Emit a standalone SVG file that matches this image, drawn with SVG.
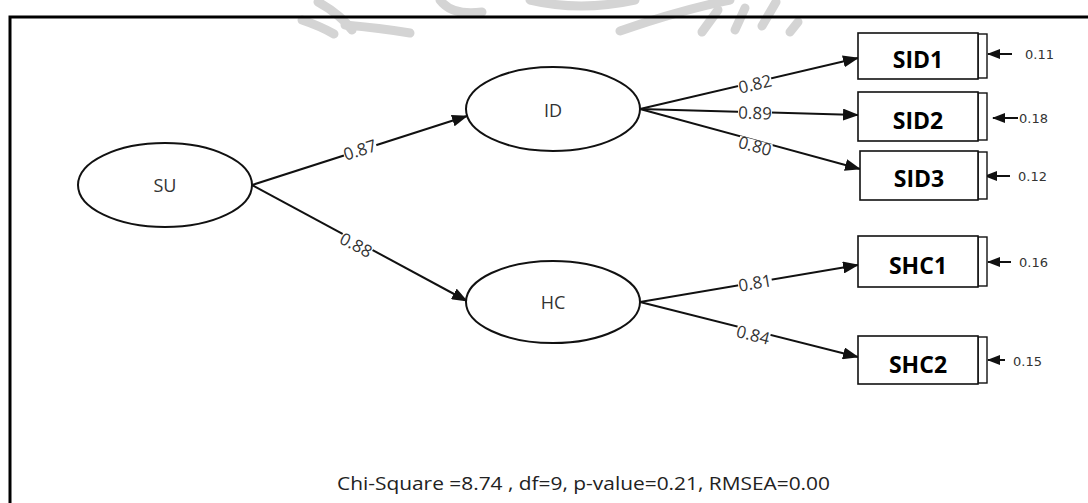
<svg xmlns="http://www.w3.org/2000/svg" width="1088" height="503" viewBox="0 0 1088 503">
  <style>
    .wm { fill: none; stroke: #d4d4d4; stroke-width: 9; stroke-linecap: round; }
    .lat { fill: #fff; stroke: #111; stroke-width: 2; }
    .latlbl { font-family: "Open Sans", "DejaVu Sans", sans-serif; font-size: 18px; fill: #333; text-anchor: middle; }
    .box { fill: #fff; stroke: #111; stroke-width: 1.6; }
    .bar { fill: #fff; stroke: #111; stroke-width: 1.4; }
    .boxlbl { font-family: "Open Sans", "Noto Sans", sans-serif; font-weight: bold; font-size: 23px; fill: #000; text-anchor: middle; }
    .path { fill: none; stroke: #111; stroke-width: 2; marker-end: url(#arrow); }
    .err { fill: none; stroke: #111; stroke-width: 2; marker-end: url(#arrowS); }
    .coef { font-family: "Open Sans", "DejaVu Sans", sans-serif; font-size: 17px; fill: #333; text-anchor: middle; }
    .halo { fill: #fff; }
    .errlbl { font-family: "DejaVu Sans", sans-serif; font-size: 13px; fill: #333; }
    .fit { font-family: "Open Sans", "DejaVu Sans", sans-serif; font-size: 19px; fill: #222; }
  </style>
  <defs>
    <marker id="arrow" markerUnits="userSpaceOnUse" markerWidth="16" markerHeight="12" refX="15" refY="6" orient="auto">
      <path d="M0,0 L16,6 L0,12 Z" fill="#111"/>
    </marker>
    <marker id="arrowS" markerUnits="userSpaceOnUse" markerWidth="13" markerHeight="10" refX="12" refY="5" orient="auto">
      <path d="M0,0 L13,5 L0,10 Z" fill="#111"/>
    </marker>
  </defs>

  <rect width="1088" height="503" fill="#fff"/>

  <!-- faint background seal -->
  <g id="seal">
    <path class="wm" d="M318,2 Q340,14 352,30"/>
    <path class="wm" d="M302,20 Q320,26 334,34"/>
    <path class="wm" d="M345,25 Q380,28 410,33"/>
    <path class="wm" d="M440,0 Q452,16 482,12"/>
    <path class="wm" d="M530,0 Q580,12 635,0"/>
    <path class="wm" d="M620,31 Q680,10 730,0"/>
    <path class="wm" d="M702,32 L718,10"/>
    <path class="wm" d="M735,30 L745,8"/>
    <path class="wm" d="M762,26 L776,2"/>
    <path class="wm" d="M790,32 L798,22"/>
  </g>

  <!-- outer frame -->
  <rect x="10" y="17" width="1090" height="500" fill="none" stroke="#000" stroke-width="3"/>

  <!-- connectors -->
  <g id="connectors">
    <line class="path" x1="252" y1="185" x2="467" y2="116"/>
    <line class="path" x1="252" y1="185" x2="467" y2="301"/>
    <line class="path" x1="640" y1="109" x2="858" y2="58"/>
    <line class="path" x1="640" y1="109" x2="858" y2="115"/>
    <line class="path" x1="640" y1="109" x2="860" y2="169"/>
    <line class="path" x1="640" y1="302" x2="858" y2="265"/>
    <line class="path" x1="640" y1="302" x2="858" y2="357"/>
    <line class="err" x1="1012" y1="54" x2="988" y2="54"/>
    <line class="err" x1="1018" y1="118" x2="993" y2="118"/>
    <line class="err" x1="1010" y1="176" x2="985" y2="176"/>
    <line class="err" x1="1011" y1="262" x2="988" y2="262"/>
    <line class="err" x1="1005" y1="360" x2="988" y2="360"/>

    <!-- path coefficients, each on a white patch that breaks the line -->
    <g transform="translate(360,150) rotate(-17.6)"><rect class="halo" x="-17" y="-6" width="34" height="12"/><text class="coef" y="6">0.87</text></g>
    <g transform="translate(356,245) rotate(28)"><rect class="halo" x="-17" y="-6" width="34" height="12"/><text class="coef" y="6">0.88</text></g>
    <g transform="translate(755,84) rotate(-13)"><rect class="halo" x="-17" y="-6" width="34" height="12"/><text class="coef" y="6">0.82</text></g>
    <g transform="translate(755,113) rotate(1.6)"><rect class="halo" x="-17" y="-6" width="34" height="12"/><text class="coef" y="6">0.89</text></g>
    <g transform="translate(755,146) rotate(15)"><rect class="halo" x="-17" y="-6" width="34" height="12"/><text class="coef" y="6">0.80</text></g>
    <g transform="translate(755,283) rotate(-9.6)"><rect class="halo" x="-17" y="-6" width="34" height="12"/><text class="coef" y="6">0.81</text></g>
    <g transform="translate(753,335) rotate(14)"><rect class="halo" x="-17" y="-6" width="34" height="12"/><text class="coef" y="6">0.84</text></g>

    <text class="errlbl" x="1025" y="59">0.11</text>
    <text class="errlbl" x="1019" y="123">0.18</text>
    <text class="errlbl" x="1018" y="181">0.12</text>
    <text class="errlbl" x="1019" y="267">0.16</text>
    <text class="errlbl" x="1013" y="366">0.15</text>
  </g>

  <!-- latent variables -->
  <g id="SU">
    <ellipse class="lat" cx="165" cy="185" rx="87" ry="42"/>
    <text class="latlbl" x="165" y="192">SU</text>
  </g>
  <g id="ID">
    <ellipse class="lat" cx="553" cy="109" rx="87" ry="42"/>
    <text class="latlbl" x="553" y="117">ID</text>
  </g>
  <g id="HC">
    <ellipse class="lat" cx="553" cy="302" rx="87" ry="41"/>
    <text class="latlbl" x="553" y="309">HC</text>
  </g>

  <!-- observed indicators -->
  <g id="SID1">
    <rect class="bar" x="978" y="34" width="9" height="44"/>
    <rect class="box" x="858" y="33" width="120" height="46"/>
    <text class="boxlbl" x="918" y="68">SID1</text>
  </g>
  <g id="SID2">
    <rect class="bar" x="978" y="93" width="9" height="47"/>
    <rect class="box" x="858" y="92" width="120" height="49"/>
    <text class="boxlbl" x="918" y="129">SID2</text>
  </g>
  <g id="SID3">
    <rect class="bar" x="978" y="152" width="9" height="47"/>
    <rect class="box" x="860" y="151" width="118" height="49"/>
    <text class="boxlbl" x="919" y="187">SID3</text>
  </g>
  <g id="SHC1">
    <rect class="bar" x="978" y="237" width="9" height="49"/>
    <rect class="box" x="858" y="236" width="120" height="51"/>
    <text class="boxlbl" x="918" y="274">SHC1</text>
  </g>
  <g id="SHC2">
    <rect class="bar" x="978" y="337" width="9" height="46"/>
    <rect class="box" x="858" y="336" width="120" height="48"/>
    <text class="boxlbl" x="918" y="373">SHC2</text>
  </g>

  <text class="fit" x="337" y="490" textLength="493" lengthAdjust="spacingAndGlyphs">Chi-Square =8.74 , df=9, p-value=0.21, RMSEA=0.00</text>
</svg>
